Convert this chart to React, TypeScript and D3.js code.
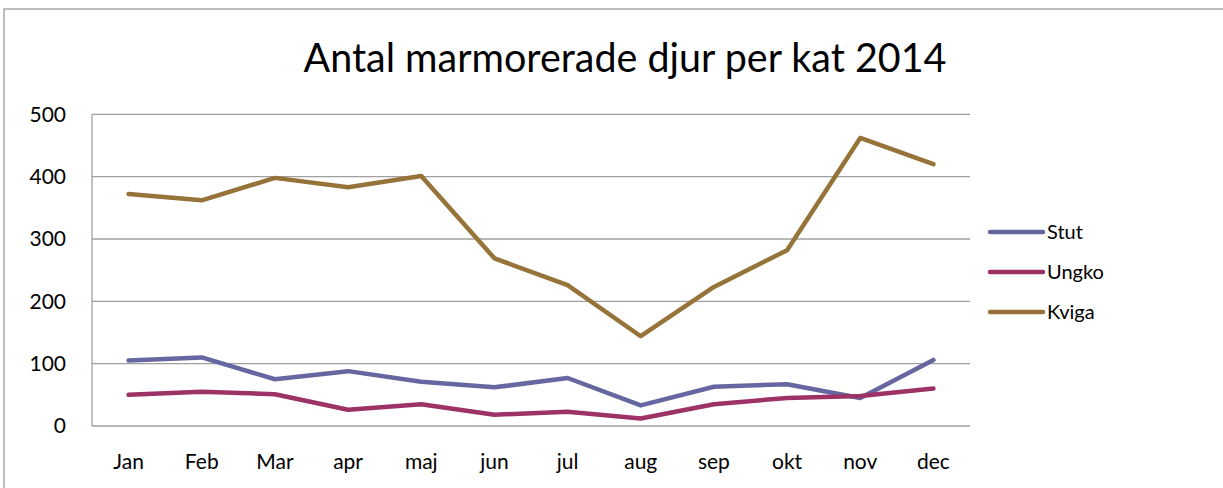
import React from "react";
import * as d3 from "d3";

const months = ["Jan", "Feb", "Mar", "apr", "maj", "jun", "jul", "aug", "sep", "okt", "nov", "dec"];
const stut = [105, 110, 75, 88, 71, 62, 77, 33, 63, 67, 45, 106];
const ungko = [50, 55, 51, 26, 35, 18, 23, 12, 35, 45, 48, 60];
const kviga = [372, 362, 398, 383, 401, 269, 226, 144, 223, 282, 462, 420];
const yTicks = [0, 100, 200, 300, 400, 500];
const seriesNames = ["Stut", "Ungko", "Kviga"];
const seriesColors = ["#6667A0", "#9C3266", "#957339"];

const W = 1223;
const H = 488;
const plot = { left: 92, right: 970, top: 114.3, bottom: 426 };
const font = "Lato, 'Open Sans', sans-serif";

export default function App() {
  const x = d3.scaleBand<string>().domain(months).range([plot.left, plot.right]);
  const y = d3.scaleLinear().domain([0, 500]).range([plot.bottom, plot.top]);
  const line = d3
    .line<number>()
    .x((_, i) => (x(months[i]) as number) + x.bandwidth() / 2)
    .y((d) => y(d));
  const allSeries = [stut, ungko, kviga];

  return (
    <svg
      width={W}
      height={H}
      style={{ position: "absolute", left: 0, top: 0, background: "#fff" }}
      fontFamily={font}
    >
      <rect x={4} y={9} width={W + 10} height={H + 10} fill="#fff" stroke="#A6A6A6" strokeWidth={1.5} />
      <text x={625} y={72} textAnchor="middle" fontSize={40} fill="#000" textLength={643} lengthAdjust="spacingAndGlyphs">
        Antal marmorerade djur per kat 2014
      </text>
      {yTicks.map((t) => (
        <g key={t}>
          <line x1={plot.left} x2={plot.right} y1={y(t)} y2={y(t)} stroke="#A0A0A0" strokeWidth={1.3} />
          <text x={66} y={y(t)} dy="0.35em" textAnchor="end" fontSize={21} fill="#000">
            {t}
          </text>
        </g>
      ))}
      <line x1={plot.left} x2={plot.left} y1={plot.top} y2={plot.bottom} stroke="#A0A0A0" strokeWidth={1.3} />
      {months.map((m) => (
        <text
          key={m}
          x={(x(m) as number) + x.bandwidth() / 2}
          y={462}
          dy="0.35em"
          textAnchor="middle"
          fontSize={21}
          fill="#000"
        >
          {m}
        </text>
      ))}
      {allSeries.map((s, i) => (
        <path
          key={i}
          d={line(s) as string}
          fill="none"
          stroke={seriesColors[i]}
          strokeWidth={4.5}
          strokeLinejoin="round"
          strokeLinecap="round"
        />
      ))}
      {seriesNames.map((n, i) => (
        <g key={n}>
          <line
            x1={990}
            x2={1043}
            y1={232 + i * 40}
            y2={232 + i * 40}
            stroke={seriesColors[i]}
            strokeWidth={4.5}
            strokeLinecap="round"
          />
          <text x={1047} y={232 + i * 40} dy="0.35em" fontSize={20} fill="#000">
            {n}
          </text>
        </g>
      ))}
    </svg>
  );
}
